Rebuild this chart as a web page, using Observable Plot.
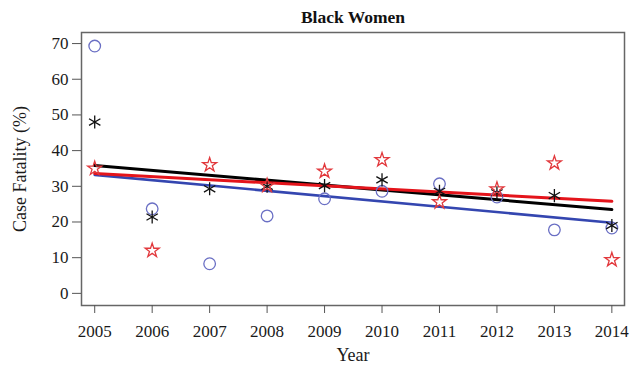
<!DOCTYPE html>
<html>
<head>
<meta charset="utf-8">
<script src="https://cdn.jsdelivr.net/npm/d3@7"></script>
<script src="https://cdn.jsdelivr.net/npm/@observablehq/plot@0.6"></script>
<style>
  html, body { margin: 0; padding: 0; background: #fff; }
</style>
</head>
<body>
<div id="chart"></div>
<script>
// Case fatality (%) by year, three groups, with fitted linear trends
const years = [2005, 2006, 2007, 2008, 2009, 2010, 2011, 2012, 2013, 2014];
const circleValues   = [69.3, 23.7, 8.3, 21.7, 26.5, 28.6, 30.7, 27.0, 17.8, 18.3];
const asteriskValues = [48.0, 21.4, 29.3, 30.0, 30.2, 31.8, 28.6, 28.2, 27.4, 19.0];
const starValues     = [35.0, 12.0, 36.0, 30.2, 34.2, 37.4, 25.6, 29.2, 36.5, 9.4];

// Fitted trend values at the first and last year
const trendYears    = [2005, 2014];
const circleTrend   = [33.2, 19.8];
const asteriskTrend = [35.8, 23.5];
const starTrend     = [33.6, 25.8];

const yTicks = [0, 10, 20, 30, 40, 50, 60, 70];

const points = (vals) => years.map((year, i) => ({year, value: vals[i]}));
const trend = (vals) => trendYears.map((year, i) => ({year, value: vals[i]}));

const chart = Plot.plot({
  width: 631,
  height: 367,
  marginLeft: 81,
  marginRight: 7,
  marginTop: 32,
  marginBottom: 62,
  style: {fontFamily: "'Liberation Serif', 'Times New Roman', serif", fontSize: "17px", color: "#1a1a1a", background: "#fff"},
  x: {domain: [2004.77, 2014.22]},
  y: {domain: [-3.4, 73.1]},
  marks: [
    Plot.frame({stroke: "#666", strokeWidth: 1.5}),
    Plot.axisX({ticks: years, tickFormat: d3.format("d"), tickSize: 8, tickPadding: 11, label: null, stroke: "#555", fontSize: 17}),
    Plot.axisY({ticks: yTicks, tickSize: 9, tickPadding: 4, label: null, stroke: "#555", fontSize: 17}),
    // trend lines
    Plot.line(trend(circleTrend), {x: "year", y: "value", stroke: "#3446b0", strokeWidth: 2.6}),
    Plot.line(trend(asteriskTrend), {x: "year", y: "value", stroke: "#000", strokeWidth: 3}),
    Plot.line(trend(starTrend), {x: "year", y: "value", stroke: "#e4141b", strokeWidth: 3}),
    // observed values
    Plot.dot(points(circleValues), {x: "year", y: "value", symbol: "circle", r: 5.8, stroke: "#6a6fc4", strokeWidth: 1.3, fill: "none"}),
    Plot.dot(points(asteriskValues), {x: "year", y: "value", symbol: "asterisk", r: 6.2, stroke: "#111", strokeWidth: 1.3}),
    Plot.dot(points(starValues), {x: "year", y: "value", symbol: "star", r: 4.4, stroke: "#e2383c", strokeWidth: 1.3, fill: "none"}),
    // title and axis labels
    Plot.text(["Black Women"], {frameAnchor: "top", lineAnchor: "bottom", dy: -10, fontWeight: "bold", fontSize: 17.5, fill: "#111"}),
    Plot.text(["Year"], {frameAnchor: "bottom", lineAnchor: "bottom", dy: 55, fontSize: 18, fill: "#1a1a1a"}),
    Plot.text(["Case Fatality (%)"], {frameAnchor: "left", rotate: -90, dx: -61, lineAnchor: "middle", textAnchor: "middle", fontSize: 18, fill: "#1a1a1a"})
  ]
});
document.getElementById("chart").appendChild(chart);
</script>
</body>
</html>
